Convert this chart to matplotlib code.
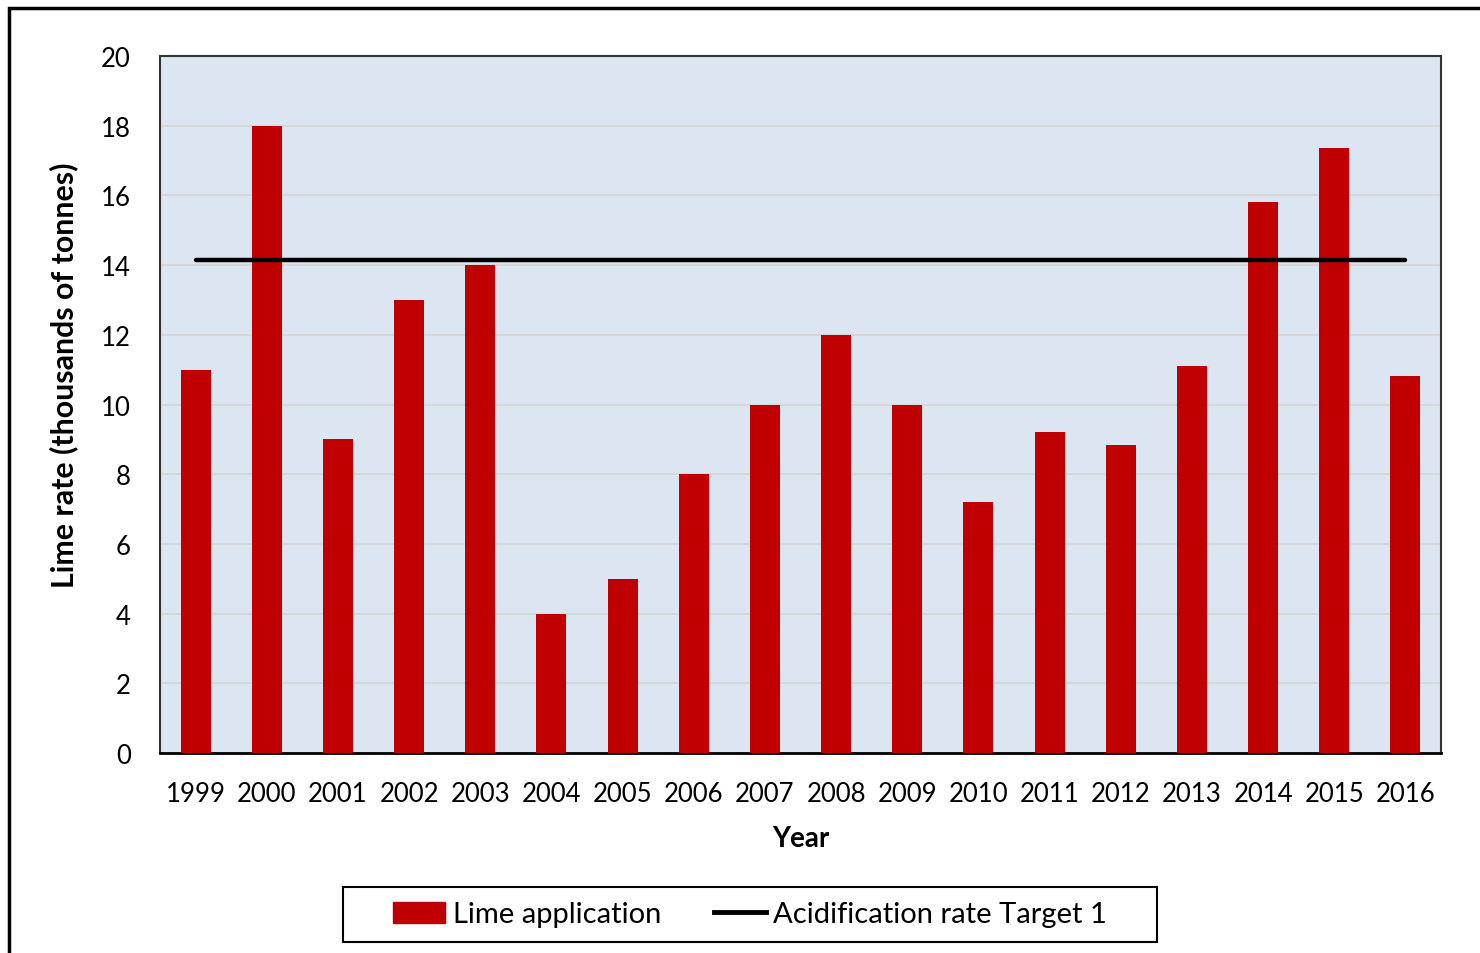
import matplotlib
matplotlib.use("Agg")
import matplotlib.pyplot as plt
from matplotlib.patches import Rectangle
from matplotlib.lines import Line2D
import numpy as np

years = ["1999", "2000", "2001", "2002", "2003", "2004", "2005", "2006", "2007",
         "2008", "2009", "2010", "2011", "2012", "2013", "2014", "2015", "2016"]
lime = [11.0, 18.0, 9.0, 13.0, 14.0, 4.0, 5.0, 8.0, 10.0,
        12.0, 10.0, 7.2, 9.2, 8.85, 11.1, 15.8, 17.35, 10.82]
target = 14.15
yticks = [0, 2, 4, 6, 8, 10, 12, 14, 16, 18, 20]

plt.rcParams["font.family"] = ["Lato", "DejaVu Sans"]

fig = plt.figure(figsize=(14.8, 9.54), dpi=100)
W, H = 1480, 954
ax = fig.add_axes([160 / W, 1 - 754 / H, (1441 - 160) / W, (754 - 57) / H])
ax.set_facecolor("#DCE6F2")

x = np.arange(len(years))
ax.bar(x, lime, width=0.42, color="#C00000", zorder=3)
ax.plot([x[0], x[-1]], [target, target], color="black", lw=3.2, solid_capstyle="round",
        zorder=4)

ax.set_xlim(-0.5, len(years) - 0.5)
ax.set_ylim(0, 20)
ax.set_yticks(yticks)
ax.set_yticklabels([str(v) for v in yticks])
ax.set_xticks(x)
ax.set_xticklabels(years)
ax.grid(axis="y", color="#D9D4D0", lw=1.2, zorder=0)
ax.tick_params(axis="both", length=0, labelsize=18.5, colors="black")
ax.tick_params(axis="x", pad=20)
ax.tick_params(axis="y", pad=21)
for s in ax.spines.values():
    s.set_color("#333333")
    s.set_linewidth(1.5)
ax.spines["bottom"].set_color("black")
ax.spines["bottom"].set_linewidth(2)

ax.set_xlabel("Year", fontsize=20, fontweight="bold", labelpad=14)
ax.set_ylabel("Lime rate (thousands of tonnes)", fontsize=21.8, fontweight="bold", labelpad=16)
ax.yaxis.label.set_y((754 - 375) / 697)

# outer chart frame
fig.add_artist(Rectangle((9 / W, -0.05), 1.1, 1 - 9 / H + 0.05, transform=fig.transFigure,
                         fill=False, edgecolor="black", lw=2.5))

# legend frame
fig.add_artist(Rectangle((343 / W, 1 - 943 / H), 814 / W, 55 / H, transform=fig.transFigure,
                         fill=False, edgecolor="black", lw=1.5))
handles = [Rectangle((0, 0), 1, 1, color="#C00000"),
           Line2D([0], [0], color="black", lw=3.5)]
leg = fig.legend(handles, ["Lime application", "Acidification rate Target 1"],
                 loc="center", bbox_to_anchor=(343 / W, 1 - 943 / H, 814 / W, 55 / H),
                 ncol=2, fontsize=21, frameon=False,
                 handlelength=1.8, handleheight=0.7, handletextpad=0.25,
                 columnspacing=1.8, borderpad=0.3)

fig.savefig("out.png", dpi=100)
